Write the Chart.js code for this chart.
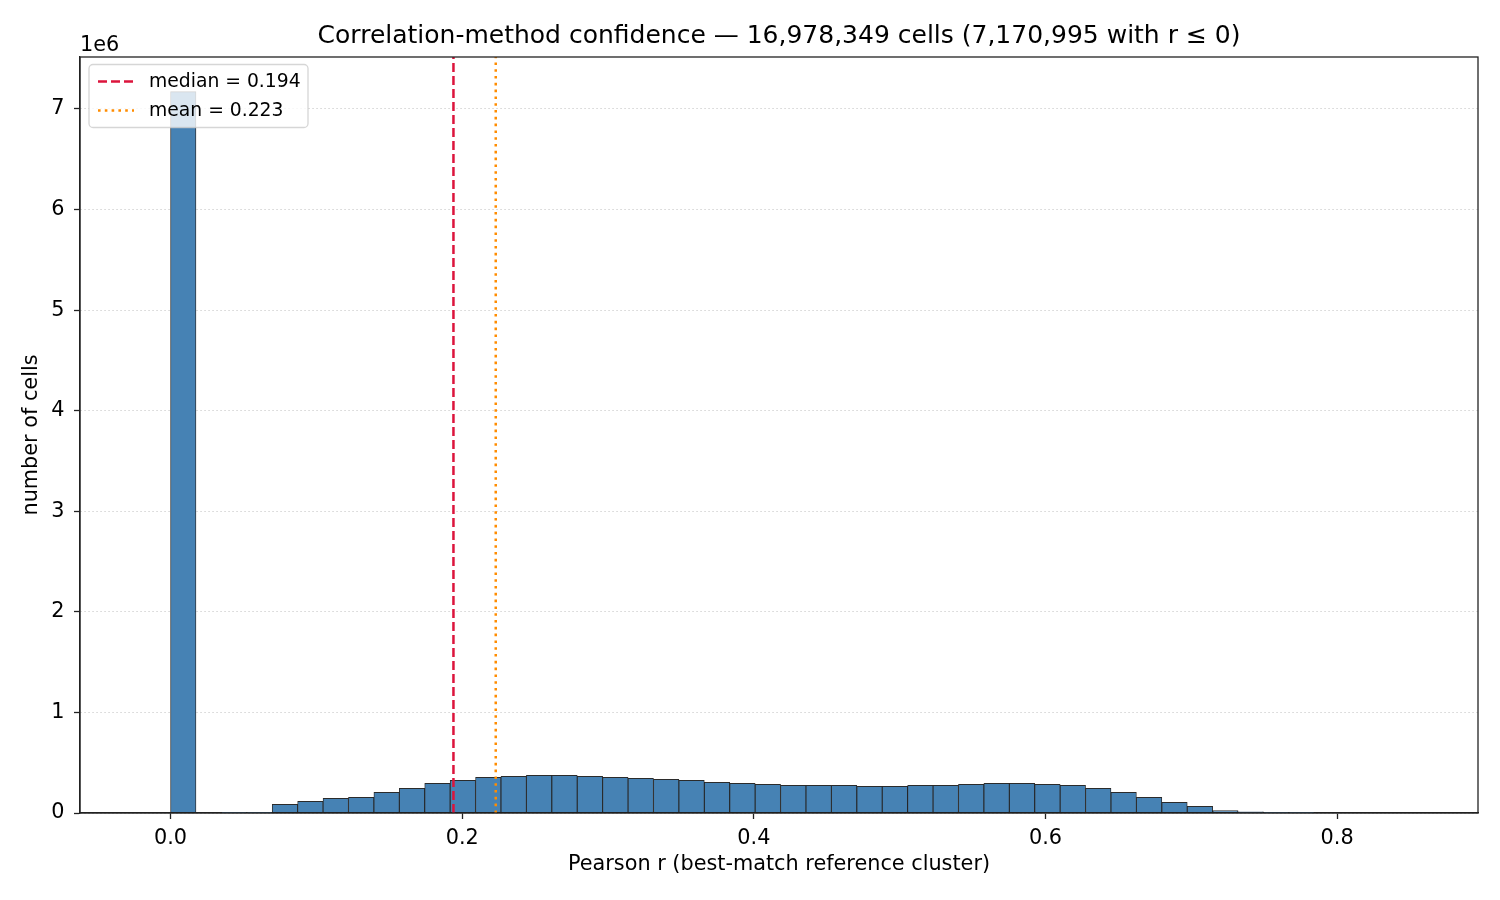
<!DOCTYPE html>
<html>
<head>
<meta charset="utf-8">
<script src="https://cdn.jsdelivr.net/npm/chart.js@4/dist/chart.umd.min.js"></script>
<style>
  html, body { margin: 0; padding: 0; background: #fff; }
  #wrap { width: 1500px; height: 900px; }
</style>
</head>
<body>
<div id="wrap"><canvas id="hist" width="1500" height="900"></canvas></div>
<script>
// histogram bin edges (Pearson r)
const binEdges = [
  0.00000, 0.01743, 0.03486, 0.05229, 0.06972, 0.08715, 0.10458, 0.12201, 0.13944, 0.15687,
  0.17430, 0.19173, 0.20916, 0.22659, 0.24402, 0.26145, 0.27888, 0.29631, 0.31374, 0.33117,
  0.34860, 0.36603, 0.38346, 0.40089, 0.41832, 0.43575, 0.45318, 0.47061, 0.48804, 0.50547,
  0.52290, 0.54033, 0.55776, 0.57519, 0.59262, 0.61005, 0.62748, 0.64491, 0.66234, 0.67977,
  0.69720, 0.71463, 0.73206, 0.74949, 0.76692, 0.78435, 0.80178, 0.81921, 0.83664, 0.85407,
  0.87150
];

// number of cells per bin
const binCounts = [
  7172000, 0, 1500, 3000, 86000, 115000, 145000, 155000, 205000, 245000,
  295000, 324000, 354000, 364000, 374000, 374000, 364000, 354000, 344000, 334000,
  324000, 305000, 295000, 285000, 275000, 275000, 275000, 265000, 265000, 275000,
  275000, 285000, 295000, 295000, 285000, 275000, 245000, 205000, 155000, 106000,
  66000, 23000, 11000, 3500, 1500, 0, 0, 0, 0, 0
];

const medianR = 0.194;
const meanR = 0.223;

const xTicks = [0.0, 0.2, 0.4, 0.6, 0.8];
const yTicks = [0, 1, 2, 3, 4, 5, 6, 7]; // x 1e6

const X_MIN = -0.0621, X_MAX = 0.8966;
const Y_MAX = 7.517e6;

const FONT = "'DejaVu Sans', 'Liberation Sans', sans-serif";

const histData = binCounts.map((c, i) => ({ x: (binEdges[i] + binEdges[i + 1]) / 2, y: c }));

const framePlugin = {
  id: "frame",
  afterDraw(chart) {
    const { ctx, chartArea: a } = chart;
    ctx.save();
    ctx.strokeStyle = "#222";
    ctx.lineWidth = 1.3;
    ctx.strokeRect(a.left, a.top, a.right - a.left, a.bottom - a.top);

    // offset text
    ctx.fillStyle = "#000";
    ctx.font = "20.8px " + FONT;
    ctx.textAlign = "left";
    ctx.textBaseline = "alphabetic";
    ctx.fillText("1e6", a.left, a.top - 6);

    // legend (upper left)
    const lines = chart.data.datasets.filter(d => d.type === "line");
    const bx = a.left + 9, by = a.top + 7.5, bw = 219, bh = 63;
    ctx.fillStyle = "rgba(255,255,255,0.8)";
    ctx.strokeStyle = "rgba(204,204,204,0.8)";
    ctx.lineWidth = 1.3;
    ctx.beginPath();
    ctx.roundRect(bx, by, bw, bh, 4);
    ctx.fill();
    ctx.stroke();
    ctx.font = "18.75px " + FONT;
    ctx.textBaseline = "middle";
    lines.forEach((d, i) => {
      const ly = by + 17 + i * 29;
      ctx.strokeStyle = d.borderColor;
      ctx.lineWidth = d.borderWidth;
      ctx.setLineDash(d.borderDash);
      ctx.beginPath();
      ctx.moveTo(bx + 9, ly);
      ctx.lineTo(bx + 45, ly);
      ctx.stroke();
      ctx.setLineDash([]);
      ctx.fillStyle = "#000";
      ctx.fillText(d.label, bx + 60, ly + 1);
    });
    ctx.restore();
  }
};

new Chart(document.getElementById("hist"), {
  type: "bar",
  data: {
    datasets: [
      {
        type: "line",
        label: "median = " + medianR.toFixed(3),
        data: [{ x: medianR, y: 0 }, { x: medianR, y: Y_MAX }],
        borderColor: "#dc143c",
        borderWidth: 2.5,
        borderDash: [9, 4],
        pointRadius: 0,
        order: 1
      },
      {
        type: "line",
        label: "mean = " + meanR.toFixed(3),
        data: [{ x: meanR, y: 0 }, { x: meanR, y: Y_MAX }],
        borderColor: "#ff8c00",
        borderWidth: 2.5,
        borderDash: [2.6, 4.2],
        pointRadius: 0,
        order: 1
      },
      {
        label: "cells",
        data: histData,
        backgroundColor: "#4682b4",
        borderColor: "rgba(20,20,20,0.9)",
        borderWidth: 0.9,
        borderSkipped: false,
        barPercentage: 1,
        categoryPercentage: 1,
        grouped: false,
        order: 2
      }
    ]
  },
  options: {
    responsive: false,
    animation: false,
    devicePixelRatio: 1,
    layout: { padding: { left: 0, right: 22, top: 0, bottom: 0 } },
    plugins: {
      legend: { display: false },
      tooltip: { enabled: false },
      title: {
        display: true,
        fullSize: false,
        text: "Correlation-method confidence \u2014 16,978,349 cells (7,170,995 with r \u2264 0)",
        color: "#000",
        font: { family: FONT, size: 25, weight: "normal", lineHeight: 1.2 },
        padding: { top: 21, bottom: 6 }
      }
    },
    scales: {
      x: {
        type: "linear",
        min: X_MIN,
        max: X_MAX,
        offset: false,
        afterFit(scale) { scale.height = 87; },
        afterBuildTicks(scale) { scale.ticks = xTicks.map(v => ({ value: v })); },
        ticks: {
          color: "#000",
          font: { family: FONT, size: 20.8 },
          padding: 7,
          maxRotation: 0,
          autoSkip: false,
          callback: v => v.toFixed(1)
        },
        grid: { offset: false, drawOnChartArea: false, drawTicks: true, tickLength: 6, tickColor: "#222", tickWidth: 1.3 },
        border: { display: true, color: "#222", width: 1.3 },
        title: {
          display: true,
          text: "Pearson r (best-match reference cluster)",
          color: "#000",
          font: { family: FONT, size: 20.8 },
          padding: { top: 4, bottom: 23 }
        }
      },
      y: {
        type: "linear",
        min: 0,
        max: Y_MAX,
        afterFit(scale) { scale.width = 80; },
        afterBuildTicks(scale) { scale.ticks = yTicks.map(v => ({ value: v * 1e6 })); },
        ticks: {
          color: "#000",
          font: { family: FONT, size: 20.8 },
          padding: 9.5,
          autoSkip: false,
          callback: v => String(Math.round(v / 1e6))
        },
        grid: {
          color: "#d4d4d4",
          lineWidth: 1,
          drawTicks: true,
          tickLength: 6,
          tickColor: "#222",
          tickWidth: 1.3,
          tickBorderDash: []
        },
        border: { display: true, color: "#222", width: 1.3, dash: [1.5, 2.5] },
        title: {
          display: true,
          text: "number of cells",
          color: "#000",
          font: { family: FONT, size: 20.8 },
          padding: { top: 19.5, bottom: 0 }
        }
      }
    }
  },
  plugins: [framePlugin]
});
</script>
</body>
</html>
